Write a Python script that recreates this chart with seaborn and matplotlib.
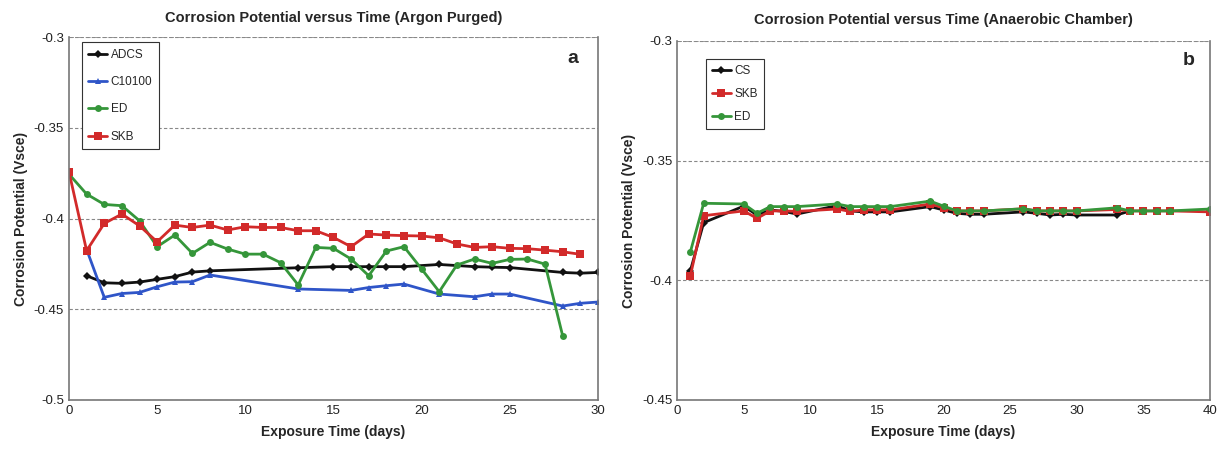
import numpy as np
import pandas as pd
import matplotlib
matplotlib.use("Agg")
import matplotlib.pyplot as plt
import seaborn as sns
from matplotlib.ticker import MultipleLocator

# ---- panel a : argon purged ----
adcs_days = [1, 2, 3, 4, 5, 6, 7, 8, 13, 15, 16, 17, 18, 19, 21, 23, 24, 25, 28, 29, 30]
adcs_vals = [-0.4315, -0.4354, -0.4357, -0.435, -0.4335, -0.432, -0.4295, -0.4288, -0.4271,
             -0.4265, -0.4265, -0.4265, -0.4265, -0.4265, -0.4253, -0.4265, -0.4268, -0.427,
             -0.4297, -0.4301, -0.4297]

c101_days = [1, 2, 3, 4, 5, 6, 7, 8, 13, 16, 17, 18, 19, 21, 23, 24, 25, 28, 29, 30]
c101_vals = [-0.4170, -0.4434, -0.4413, -0.4407, -0.4376, -0.435, -0.4348, -0.4311, -0.4388,
             -0.4396, -0.438, -0.437, -0.4361, -0.4416, -0.4431, -0.4416, -0.4416, -0.4482,
             -0.4467, -0.446]

ed_days = list(range(0, 29))
ed_vals = [-0.3755, -0.3865, -0.3922, -0.3929, -0.4012, -0.4155, -0.4091, -0.4192, -0.4131,
           -0.4168, -0.4196, -0.4196, -0.4243, -0.4366, -0.4159, -0.4164, -0.4223, -0.4315,
           -0.4179, -0.4155, -0.4278, -0.4403, -0.4256, -0.4223, -0.4247, -0.4225, -0.4223,
           -0.4251, -0.4646]

skb_days = list(range(0, 30))
skb_vals = [-0.3742, -0.4177, -0.4027, -0.3975, -0.404, -0.4128, -0.4036, -0.4049, -0.4036,
            -0.4063, -0.4045, -0.4049, -0.4049, -0.4067, -0.4067, -0.4104, -0.4155, -0.4085,
            -0.4091, -0.4094, -0.4096, -0.4106, -0.414, -0.4159, -0.4155, -0.4164, -0.4166,
            -0.4174, -0.4183, -0.4197]

# ---- panel b : anaerobic chamber ----
cs_days = [1, 2, 5, 6, 7, 8, 9, 12, 13, 14, 15, 16, 19, 20, 21, 22, 23, 26, 27, 28, 29, 30, 33, 34]
cs_vals = [-0.396, -0.3759, -0.369, -0.3727, -0.3706, -0.3712, -0.3723, -0.3688, -0.371,
           -0.3714, -0.3714, -0.3714, -0.3692, -0.3706, -0.372, -0.3724, -0.3724, -0.3714,
           -0.372, -0.3727, -0.3724, -0.3727, -0.3727, -0.371]

b_days = [1, 2, 5, 6, 7, 8, 9, 12, 13, 14, 15, 16, 19, 20, 21, 22, 23, 26, 27, 28, 29, 30,
          33, 34, 35, 36, 37, 40]
skb_b_vals = [-0.3981, -0.373, -0.371, -0.3741, -0.371, -0.371, -0.3712, -0.3702, -0.3712,
              -0.3706, -0.3706, -0.3706, -0.3681, -0.3697, -0.371, -0.371, -0.371, -0.3701,
              -0.371, -0.371, -0.371, -0.371, -0.3704, -0.371, -0.371, -0.371, -0.371, -0.3714]
ed_b_vals = [-0.3881, -0.3678, -0.3681, -0.372, -0.3692, -0.3692, -0.3692, -0.3681, -0.3692,
             -0.3692, -0.3692, -0.3692, -0.3669, -0.369, -0.371, -0.371, -0.371, -0.3701,
             -0.371, -0.371, -0.371, -0.371, -0.3697, -0.371, -0.371, -0.371, -0.371, -0.3702]

BLACK, BLUE, GREEN, RED = "#111111", "#2f55c8", "#35963a", "#d22a2a"

sns.set_style("white")
plt.rcParams["font.family"] = ["Liberation Sans", "DejaVu Sans"]

fig = plt.figure(figsize=(12.23, 4.53), dpi=100)
ax1 = fig.add_axes([0.0564, 0.117, 0.4325, 0.801])
ax2 = fig.add_axes([0.5536, 0.117, 0.4358, 0.7925])

series_a = [
    ("ADCS", adcs_days, adcs_vals, BLACK, "D", 4),
    ("C10100", c101_days, c101_vals, BLUE, "^", 5),
    ("ED", ed_days, ed_vals, GREEN, "o", 5),
    ("SKB", skb_days, skb_vals, RED, "s", 5.5),
]
series_b = [
    ("CS", cs_days, cs_vals, BLACK, "D", 4),
    ("SKB", b_days, skb_b_vals, RED, "s", 5.5),
    ("ED", b_days, ed_b_vals, GREEN, "o", 5),
]

for ax, series in [(ax1, series_a), (ax2, series_b)]:
    for name, d, v, col, mk, ms in series:
        df = pd.DataFrame({"day": d, "E": v})
        sns.lineplot(data=df, x="day", y="E", ax=ax, color=col, marker=mk,
                     markersize=ms, markeredgewidth=0, linewidth=2, label=name)

ax1.set_xlim(0, 30)
ax1.set_ylim(-0.5, -0.3)
ax1.set_yticks([-0.5, -0.45, -0.4, -0.35, -0.3])
ax1.set_yticklabels(["-0.5", "-0.45", "-0.4", "-0.35", "-0.3"])
ax1.set_xticks([0, 5, 10, 15, 20, 25, 30])
ax1.set_title("Corrosion Potential versus Time (Argon Purged)", fontsize=10.5,
              fontweight="bold", pad=11)
ax1.text(0.952, 0.94, "a", transform=ax1.transAxes, fontsize=14, fontweight="bold",
         ha="center", va="center")

ax2.set_xlim(0, 40)
ax2.set_ylim(-0.45, -0.3)
ax2.set_yticks([-0.45, -0.4, -0.35, -0.3])
ax2.set_yticklabels(["-0.45", "-0.4", "-0.35", "-0.3"])
ax2.set_xticks([0, 5, 10, 15, 20, 25, 30, 35, 40])
ax2.set_title("Corrosion Potential versus Time (Anaerobic Chamber)", fontsize=10.5,
              fontweight="bold", pad=12)
ax2.text(0.96, 0.945, "b", transform=ax2.transAxes, fontsize=14, fontweight="bold",
         ha="center", va="center")

for ax in (ax1, ax2):
    ax.set_xlabel("Exposure Time (days)", fontsize=10, fontweight="bold", labelpad=6)
    ax.set_ylabel("Corrosion Potential (Vsce)", fontsize=10, fontweight="bold", labelpad=4)
    ax.xaxis.set_minor_locator(MultipleLocator(1))
    ax.yaxis.set_minor_locator(MultipleLocator(0.01))
    ax.tick_params(axis="both", which="both", direction="in", colors="#777777",
                   labelcolor="#222222", labelsize=9.5)
    ax.tick_params(which="major", length=5)
    ax.tick_params(which="minor", length=4)
    ax.grid(axis="y", which="major", linestyle=(0, (3, 2)), color="#888888", linewidth=0.8)
    for s in ("left", "bottom", "right"):
        ax.spines[s].set_color("#777777")
        ax.spines[s].set_linewidth(1.2)
    ax.spines["top"].set_visible(False)
    ax.axhline(ax.get_ylim()[1], linestyle=(0, (3, 2)), color="#888888", linewidth=1.2)

leg1 = ax1.legend(loc="upper left", bbox_to_anchor=(0.024, 0.986), fontsize=8.5,
                  labelspacing=1.3, handlelength=1.6, handletextpad=0.3,
                  borderpad=0.55, borderaxespad=0, fancybox=False, edgecolor="#333333",
                  framealpha=1)
leg2 = ax2.legend(loc="upper left", bbox_to_anchor=(0.054, 0.95), fontsize=8.5,
                  labelspacing=0.95, handlelength=1.6, handletextpad=0.3,
                  borderpad=0.5, borderaxespad=0, fancybox=False, edgecolor="#333333",
                  framealpha=1)
for leg in (leg1, leg2):
    leg.get_frame().set_linewidth(0.8)

fig.savefig("out.png", dpi=100)
